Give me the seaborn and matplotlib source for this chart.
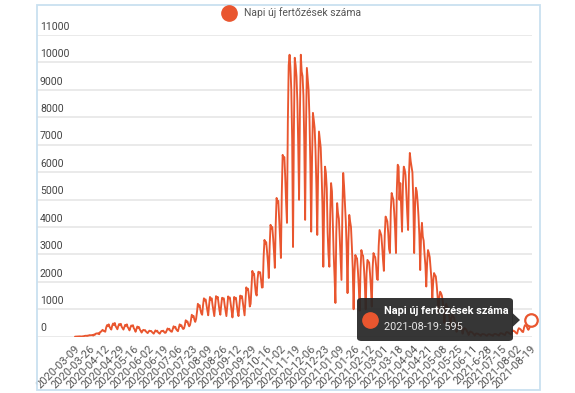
import matplotlib.pyplot as plt
import seaborn as sns
import pandas as pd
from matplotlib.lines import Line2D
from matplotlib.patches import FancyBboxPatch, Polygon, Rectangle

series_name = 'Napi új fertőzések száma'

tick_labels = ['2020-03-09', '2020-03-26', '2020-04-12', '2020-04-29', '2020-05-16',
               '2020-06-02', '2020-06-19', '2020-07-06', '2020-07-23', '2020-08-09',
               '2020-08-26', '2020-09-12', '2020-09-29', '2020-10-16', '2020-11-02',
               '2020-11-19', '2020-12-06', '2020-12-23', '2021-01-09', '2021-01-26',
               '2021-02-12', '2021-03-01', '2021-03-18', '2021-04-04', '2021-04-21',
               '2021-05-08', '2021-05-25', '2021-06-11', '2021-6-28', '2021-07-15',
               '2021-08-02', '2021-08-19']

# one row per week
daily_cases = [
    2, 3, 5, 6, 9, 11, 13,
    7, 11, 19, 18, 28, 33, 37,
    25, 45, 38, 60, 50, 55, 60,
    40, 80, 70, 110, 120, 110, 130,
    90, 170, 180, 220, 250, 210, 200,
    180, 330, 420, 380, 450, 360, 300,
    260, 400, 480, 430, 500, 380, 330,
    270, 380, 460, 420, 470, 360, 310,
    260, 350, 430, 400, 450, 340, 300,
    230, 330, 410, 380, 420, 310, 260,
    180, 280, 370, 330, 350, 260, 210,
    150, 210, 250, 230, 240, 190, 160,
    130, 180, 220, 200, 210, 170, 140,
    110, 170, 230, 190, 220, 160, 130,
    110, 170, 210, 200, 220, 170, 140,
    150, 230, 300, 260, 290, 220, 190,
    180, 280, 380, 330, 360, 270, 230,
    200, 320, 450, 390, 420, 330, 280,
    300, 420, 600, 530, 560, 450, 380,
    430, 600, 800, 720, 760, 620, 540,
    650, 900, 1200, 1100, 1150, 980, 850,
    800, 1150, 1400, 1320, 1360, 1150, 950,
    780, 1150, 1450, 1350, 1400, 1150, 950,
    750, 1100, 1480, 1400, 1450, 1200, 950,
    800, 1150, 1420, 1380, 1400, 1150, 950,
    750, 1100, 1470, 1400, 1430, 1200, 950,
    700, 1050, 1450, 1380, 1420, 1150, 900,
    750, 1150, 1500, 1420, 1480, 1250, 1000,
    780, 1300, 1800, 1700, 1750, 1500, 1100,
    1200, 1800, 2400, 2250, 2300, 1900, 1590,
    1500, 2100, 2370, 2320, 2350, 2100, 1790,
    1800, 2900, 3530, 3400, 3450, 3100, 2700,
    2140, 3300, 4080, 3950, 4000, 3600, 3100,
    2510, 4100, 5060, 4900, 4950, 4300, 3600,
    2870, 5200, 6630, 6500, 6550, 5800, 4900,
    4150, 7800, 9900, 10280, 9800, 9000, 7200,
    3270, 7500, 10170, 9900, 9490, 8600, 7000,
    4990, 8200, 10280, 9670, 9500, 8800, 7100,
    4260, 7600, 9800, 9400, 9000, 8000, 6300,
    3830, 6500, 8160, 7900, 7600, 6800, 5500,
    3710, 6000, 7480, 7200, 6900, 6000, 4800,
    2550, 4800, 6200, 5970, 5400, 3800, 3000,
    2550, 4500, 5600, 5300, 4200, 3000, 2200,
    1230, 3800, 4870, 4500, 4300, 3600, 2800,
    2070, 4500, 5970, 5500, 4870, 4200, 3200,
    1590, 3500, 4440, 4200, 4000, 3300, 2500,
    1000, 2300, 2980, 2900, 2850, 2400, 1800,
    950, 2400, 3160, 3000, 2950, 2500, 1900,
    1000, 2300, 2800, 2750, 2700, 2300, 1800,
    1100, 2500, 3050, 2950, 2900, 2600, 2100,
    2070, 3300, 3890, 3800, 3700, 3300, 2800,
    2400, 3700, 4380, 4300, 4200, 3800, 3200,
    3050, 4600, 5240, 5100, 5000, 4500, 3900,
    3050, 5400, 6270, 6200, 4990, 5600, 4700,
    3830, 5500, 6200, 6100, 5900, 5200, 4500,
    3890, 5900, 6700, 6400, 6200, 5990, 5000,
    3050, 4700, 5430, 5300, 4930, 4400, 3700,
    2430, 3700, 4150, 3650, 3500, 3000, 2600,
    1830, 2700, 3160, 3050, 2900, 2500, 2100,
    1410, 2000, 2320, 2250, 2200, 1900, 1500,
    860, 1400, 1640, 1590, 1500, 1300, 1000,
    500, 1000, 1200, 1100, 1050, 850, 650,
    300, 650, 800, 750, 700, 550, 400,
    180, 400, 500, 450, 420, 330, 250,
    110, 250, 320, 290, 270, 200, 150,
    60, 150, 190, 170, 160, 120, 90,
    40, 100, 120, 110, 100, 80, 60,
    30, 80, 100, 90, 90, 70, 50,
    30, 70, 90, 90, 80, 60, 50,
    30, 80, 100, 100, 90, 70, 60,
    40, 100, 130, 120, 110, 90, 70,
    60, 140, 170, 160, 150, 120, 100,
    80, 180, 230, 210, 200, 160, 130,
    110, 240, 310, 290, 270, 220, 180,
    170, 330, 420, 400, 380, 300, 250,
    300, 420, 595,
]

y_ticks = list(range(0, 11001, 1000))
tick_step = 17

RED = '#e9562f'
W, H = 575, 393


def fig_xy(px, py):
    return px / W, 1 - py / H


df = pd.DataFrame({'day': range(len(daily_cases)), 'cases': daily_cases})

sns.set_theme(style='white')
plt.rcParams['font.family'] = ['Roboto', 'DejaVu Sans']

fig = plt.figure(figsize=(5.75, 3.93), dpi=100)
ax = fig.add_axes([37 / W, 1 - 336.7 / H, (532 - 37) / W, (336.7 - 35) / H])

sns.lineplot(data=df, x='day', y='cases', ax=ax, color=RED, lw=1.35)

last = len(daily_cases) - 1
ax.plot(last, daily_cases[-1], marker='o', ms=9, mfc='white', mec=RED, mew=1.6,
        zorder=5, clip_on=False)

ax.set_xlim(-43.9, 528.2)
ax.set_ylim(0, 11000)
ax.set_yticks(y_ticks)
ax.set_yticklabels([])
ax.grid(axis='y', color='#e4e4e4', lw=1.1)
ax.grid(axis='x', visible=False)
ax.tick_params(axis='y', length=0)
for s in ax.spines.values():
    s.set_visible(False)
ax.set_xlabel('')
ax.set_ylabel('')

for v in y_ticks:
    ax.text(0.006, v + 120, str(v), transform=ax.get_yaxis_transform(),
            ha='left', va='bottom', fontsize=7.6, color='#444444')

ax.set_xticks(list(range(0, len(daily_cases), tick_step)))
ax.set_xticklabels(tick_labels, rotation=45, ha='right', va='top',
                   rotation_mode='anchor', fontsize=8, color='#555555')
ax.tick_params(axis='x', length=0, pad=5)

# legend
handle = Line2D([], [], marker='o', ls='', color=RED, markersize=11)
fig.legend([handle], [series_name], loc='center', bbox_to_anchor=fig_xy(290, 13),
           frameon=False, fontsize=7.5, handletextpad=0.4, labelcolor='#555555')

# outer frame
fig.add_artist(Rectangle(fig_xy(37, 390), (540 - 37) / W, (390 - 5) / H, fill=False,
                         ec='#c9e0f0', lw=1.3, transform=fig.transFigure))

# tooltip
bx0, by0 = fig_xy(357, 341)
bx1, by1 = fig_xy(513, 298)
fig.add_artist(FancyBboxPatch((bx0, by0), bx1 - bx0, by1 - by0,
                              boxstyle='round,pad=0,rounding_size=0.008',
                              fc='#262626', ec='none', alpha=0.93,
                              transform=fig.transFigure, zorder=10))
fig.add_artist(Polygon([fig_xy(512.5, 313), fig_xy(520, 320), fig_xy(512.5, 327)],
                       closed=True, fc='#262626', ec='none', alpha=0.93,
                       transform=fig.transFigure, zorder=10))
fig.add_artist(Line2D([370 / W], [1 - 320 / H], marker='o', ms=11, color=RED,
                      ls='', transform=fig.transFigure, zorder=11))
tx, ty = fig_xy(384, 311.5)
fig.text(tx, ty, series_name, color='white', fontsize=7.8, fontweight='bold',
         va='center', ha='left', zorder=12)
tx, ty = fig_xy(384, 326.5)
fig.text(tx, ty, f'{tick_labels[-1]}: {daily_cases[-1]}', color='#e6e6e6',
         fontsize=7.8, va='center', ha='left', zorder=12)

fig.savefig('out.png', dpi=100)
